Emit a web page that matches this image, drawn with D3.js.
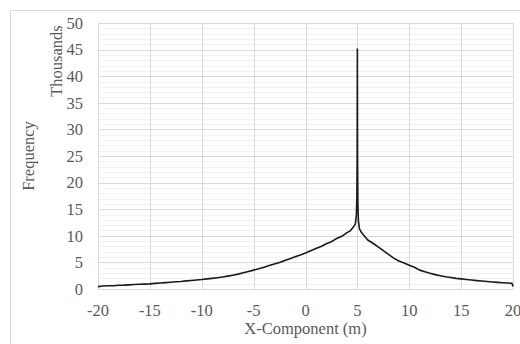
<!DOCTYPE html>
<html>
<head>
<meta charset="utf-8">
<script src="https://cdn.jsdelivr.net/npm/d3@7"></script>
<style>
  body { margin: 0; background: #fff; }
  svg { display: block; font-family: "Liberation Serif", "Times New Roman", serif; }
</style>
</head>
<body>
<svg id="chart" width="520" height="344"></svg>
<script>
// x position (m) and frequency (thousands)
const xPos = [
  -20, -19.5, -19, -18.5, -18, -17.5, -17, -16.5, -16, -15.5,
  -15, -14.5, -14, -13.5, -13, -12.5, -12, -11.5, -11, -10.5,
  -10, -9.5, -9, -8.5, -8, -7.5, -7, -6.5, -6, -5.5,
  -5, -4.5, -4, -3.5, -3, -2.5, -2, -1.5, -1, -0.5,
  0, 0.5, 1, 1.5, 2, 2.5, 3, 3.5, 4, 4.3,
  4.6, 4.8, 4.9, 4.95, 4.98, 5, 5.02, 5.05, 5.1, 5.2,
  5.4, 5.7, 6, 6.5, 7, 7.5, 8, 8.5, 9, 9.5,
  10, 10.5, 11, 11.5, 12, 12.5, 13, 13.5, 14, 14.5,
  15, 15.5, 16, 16.5, 17, 17.5, 18, 18.5, 19, 19.5,
  19.9, 20
];
const freq = [
  0.45, 0.55, 0.6, 0.62, 0.7, 0.72, 0.78, 0.85, 0.88, 0.92,
  0.97, 1.05, 1.12, 1.2, 1.28, 1.36, 1.42, 1.52, 1.6, 1.7,
  1.78, 1.9, 2.0, 2.12, 2.25, 2.42, 2.6, 2.8, 3.05, 3.3,
  3.55, 3.8, 4.1, 4.4, 4.7, 5.0, 5.35, 5.7, 6.05, 6.4,
  6.75, 7.2, 7.6, 8.0, 8.5, 8.9, 9.5, 9.9, 10.6, 10.9,
  11.6, 12.2, 13.8, 17, 25, 45.1, 24, 16, 12.8, 11.3,
  10.6, 9.9, 9.2, 8.6, 7.9, 7.2, 6.5, 5.8, 5.25, 4.9,
  4.45, 4.1, 3.55, 3.25, 2.95, 2.7, 2.5, 2.3, 2.15, 2.0,
  1.9, 1.8, 1.68, 1.58, 1.5, 1.42, 1.33, 1.25, 1.18, 1.12,
  1.07, 0.45
];
const xTicks = [-20, -15, -10, -5, 0, 5, 10, 15, 20];
const yTicks = [0, 5, 10, 15, 20, 25, 30, 35, 40, 45, 50];
const yMinor = d3.range(0, 51, 1);

const svg = d3.select('#chart');
const plot = { left: 98, right: 513, top: 23, bottom: 289 };
const textColor = '#595959';
const fontSize = '16.5px';

const x = d3.scaleLinear().domain([-20, 20]).range([plot.left, plot.right]);
const y = d3.scaleLinear().domain([0, 50]).range([plot.bottom, plot.top]);

// chart area border
svg.append('rect')
  .attr('x', 10.5).attr('y', 10.5)
  .attr('width', 600).attr('height', 400)
  .attr('fill', '#fff')
  .attr('stroke', '#d9d9d9');

// minor horizontal grid
svg.append('g')
  .selectAll('line')
  .data(yMinor.filter(d => d % 5 !== 0))
  .join('line')
  .attr('x1', plot.left).attr('x2', plot.right)
  .attr('y1', d => Math.round(y(d)) + 0.5)
  .attr('y2', d => Math.round(y(d)) + 0.5)
  .attr('stroke', '#f2f2f2');

// major horizontal grid
svg.append('g')
  .selectAll('line')
  .data(yTicks)
  .join('line')
  .attr('x1', plot.left).attr('x2', plot.right)
  .attr('y1', d => Math.round(y(d)) + 0.5)
  .attr('y2', d => Math.round(y(d)) + 0.5)
  .attr('stroke', '#d9d9d9');

// vertical grid
svg.append('g')
  .selectAll('line')
  .data(xTicks)
  .join('line')
  .attr('x1', d => Math.round(x(d)) + 0.5)
  .attr('x2', d => Math.round(x(d)) + 0.5)
  .attr('y1', plot.top).attr('y2', plot.bottom)
  .attr('stroke', '#d9d9d9');

// the series
const line = d3.line()
  .x((d, i) => x(xPos[i]))
  .y(d => y(d));

svg.append('path')
  .datum(freq)
  .attr('fill', 'none')
  .attr('stroke', '#1a1a1a')
  .attr('stroke-width', 1.6)
  .attr('stroke-linejoin', 'round')
  .attr('d', line);

// y tick labels
svg.append('g')
  .selectAll('text')
  .data(yTicks)
  .join('text')
  .attr('x', 83)
  .attr('y', d => y(d))
  .attr('dy', '0.35em')
  .attr('text-anchor', 'end')
  .attr('fill', textColor)
  .style('font-size', fontSize)
  .text(d => d);

// x tick labels
svg.append('g')
  .selectAll('text')
  .data(xTicks)
  .join('text')
  .attr('x', d => x(d))
  .attr('y', 316)
  .attr('text-anchor', 'middle')
  .attr('fill', textColor)
  .style('font-size', fontSize)
  .text(d => d);

// axis titles
svg.append('text')
  .attr('x', (plot.left + plot.right) / 2)
  .attr('y', 334)
  .attr('text-anchor', 'middle')
  .attr('fill', textColor)
  .style('font-size', fontSize)
  .text('X-Component (m)');

svg.append('text')
  .attr('transform', `translate(34,${(plot.top + plot.bottom) / 2}) rotate(-90)`)
  .attr('text-anchor', 'middle')
  .attr('fill', textColor)
  .style('font-size', fontSize)
  .text('Frequency');

svg.append('text')
  .attr('transform', 'translate(61.5,61) rotate(-90)')
  .attr('text-anchor', 'middle')
  .attr('fill', textColor)
  .style('font-size', fontSize)
  .text('Thousands');
</script>
</body>
</html>
